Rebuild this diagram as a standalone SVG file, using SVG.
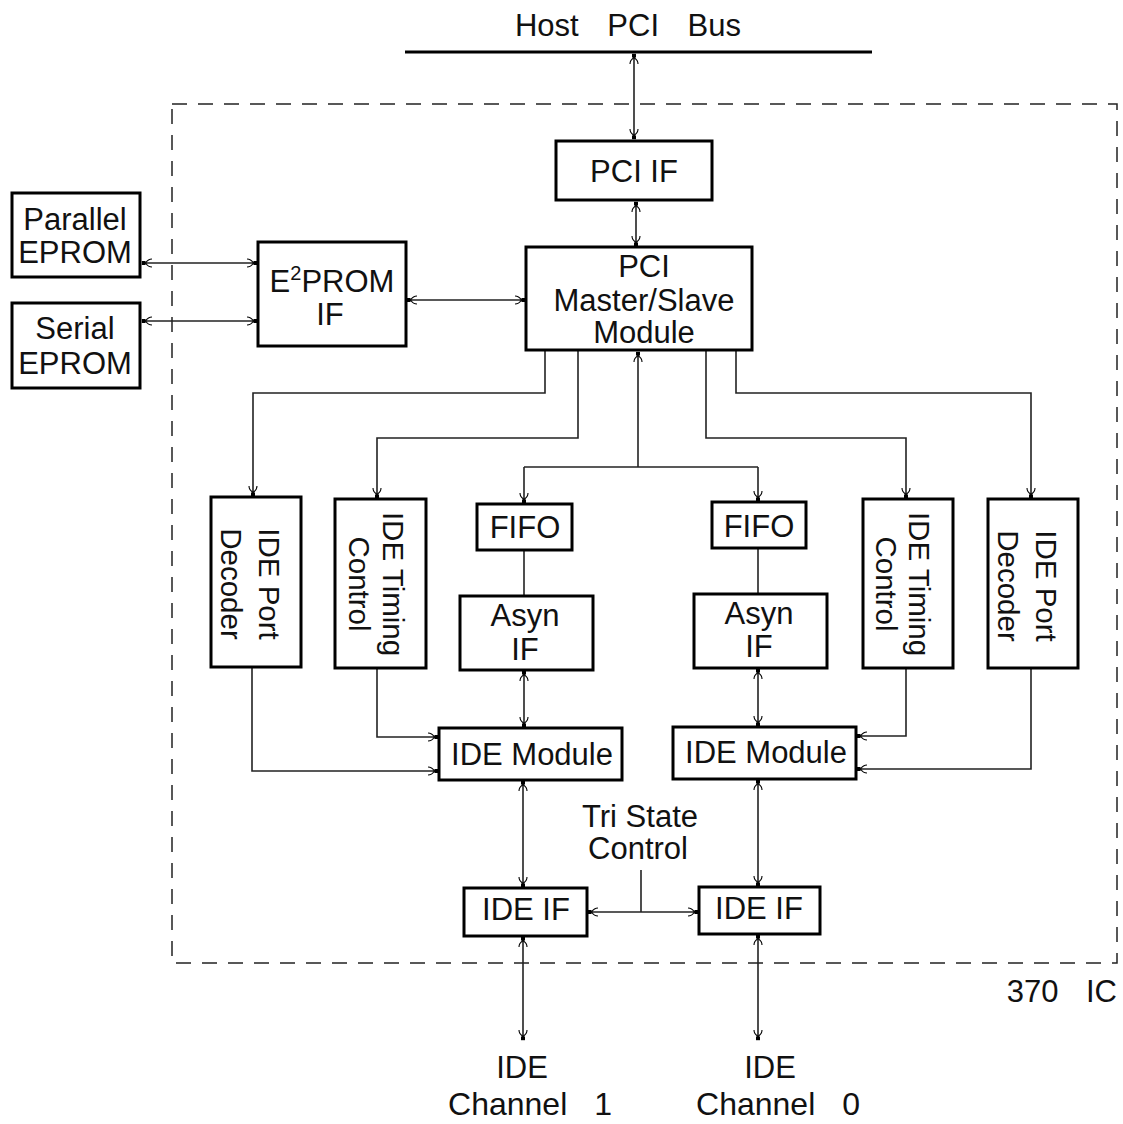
<svg xmlns="http://www.w3.org/2000/svg" width="1123" height="1124" viewBox="0 0 1123 1124">
<defs>
<style>
.box{fill:#fff;stroke:#000;stroke-width:3}
.t{font-family:"Liberation Sans",Arial,Helvetica,sans-serif;font-size:31px;fill:#111;text-anchor:middle}
.v{font-family:"Liberation Sans",Arial,Helvetica,sans-serif;font-size:29.5px;fill:#111;text-anchor:middle}
.c{fill:none;stroke:#222;stroke-width:1.6}
.a{fill:none;stroke:#222;stroke-width:1.6;marker-end:url(#ah)}
.d{fill:none;stroke:#222;stroke-width:1.6;marker-start:url(#ah);marker-end:url(#ah)}
</style>
<marker id="ah" markerUnits="userSpaceOnUse" markerWidth="13" markerHeight="11" viewBox="-11 -5.5 13 11" refX="0" refY="0" orient="auto-start-reverse">
<rect x="-3.6" y="-2" width="3.8" height="4" fill="#000"/>
<path d="M-10,-4 C-6,-4 -5,-2.2 -3.6,0 C-5,2.2 -6,4 -10,4" fill="none" stroke="#000" stroke-width="1.1"/>
</marker>
</defs>

<g id="chip-boundary">
<rect x="172" y="104" width="945" height="859" fill="none" stroke="#222" stroke-width="1.5" stroke-dasharray="15 11"/>
<text class="t" x="1117" y="1002" style="text-anchor:end;word-spacing:19px">370 IC</text>
</g>

<g id="host-pci-bus">
<line x1="405" y1="52" x2="872" y2="52" stroke="#000" stroke-width="3"/>
<text class="t" x="628" y="36" style="word-spacing:20px">Host PCI Bus</text>
</g>

<g id="connectors">
<line class="d" x1="634" y1="54" x2="634" y2="139"/>
<line class="d" x1="636" y1="202" x2="636" y2="246"/>
<line class="d" x1="142" y1="263" x2="257" y2="263"/>
<line class="d" x1="142" y1="321" x2="257" y2="321"/>
<line class="d" x1="407" y1="300" x2="525" y2="300"/>
<path class="a" d="M545,351 V393 H253 V496"/>
<path class="a" d="M578,351 V438 H377 V498"/>
<path class="a" d="M638,467 V352"/>
<path class="c" d="M524,467 H758"/>
<path class="a" d="M524,467 V503"/>
<path class="a" d="M758,467 V501"/>
<path class="a" d="M706,351 V438 H906 V498"/>
<path class="a" d="M736,351 V393 H1031 V498"/>
<line class="c" x1="524" y1="550" x2="524" y2="596"/>
<line class="c" x1="758" y1="548" x2="758" y2="594"/>
<line class="d" x1="524" y1="671" x2="524" y2="727"/>
<line class="d" x1="758" y1="669" x2="758" y2="726"/>
<path class="a" d="M377,668 V737 H438"/>
<path class="a" d="M252,667 V771 H438"/>
<path class="a" d="M906,668 V736 H857"/>
<path class="a" d="M1031,668 V769 H857"/>
<line class="d" x1="523" y1="781" x2="523" y2="887"/>
<line class="d" x1="758" y1="780" x2="758" y2="886"/>
<line class="d" x1="588" y1="912" x2="698" y2="912"/>
<line class="c" x1="641" y1="870" x2="641" y2="912"/>
<line class="d" x1="523" y1="937" x2="523" y2="1040"/>
<line class="d" x1="758" y1="935" x2="758" y2="1040"/>
</g>

<g id="pci-if">
<rect class="box" x="556" y="141" width="156" height="59"/>
<text class="t" x="634" y="182">PCI IF</text>
</g>

<g id="pci-master-slave">
<rect class="box" x="526" y="247" width="226" height="103"/>
<text class="t" x="644" y="277">PCI</text>
<text class="t" x="644" y="311">Master/Slave</text>
<text class="t" x="644" y="343">Module</text>
</g>

<g id="parallel-eprom">
<rect class="box" x="12" y="193" width="128" height="84"/>
<text class="t" x="75" y="230">Parallel</text>
<text class="t" x="75" y="263">EPROM</text>
</g>

<g id="serial-eprom">
<rect class="box" x="12" y="303" width="128" height="85"/>
<text class="t" x="75" y="339">Serial</text>
<text class="t" x="75" y="374">EPROM</text>
</g>

<g id="e2prom-if">
<rect class="box" x="258" y="242" width="148" height="104"/>
<text class="t" x="332" y="292">E<tspan dy="-12" font-size="20">2</tspan><tspan dy="12">PROM</tspan></text>
<text class="t" x="330" y="325">IF</text>
</g>

<g id="ide-port-decoder-1">
<rect class="box" x="211" y="497" width="90" height="170"/>
<g transform="translate(256,584) rotate(90)">
<text class="v" x="0" y="-3">IDE Port</text>
<text class="v" x="0" y="35">Decoder</text>
</g>
</g>

<g id="ide-timing-control-1">
<rect class="box" x="335" y="499" width="91" height="169"/>
<g transform="translate(380.5,584) rotate(90)">
<text class="v" x="0" y="-2">IDE Timing</text>
<text class="v" x="0" y="32">Control</text>
</g>
</g>

<g id="fifo-1">
<rect class="box" x="477" y="504" width="95" height="46"/>
<text class="t" x="525" y="538">FIFO</text>
</g>

<g id="asyn-if-1">
<rect class="box" x="460" y="596" width="133" height="74"/>
<text class="t" x="525" y="626">Asyn</text>
<text class="t" x="525" y="660">IF</text>
</g>

<g id="ide-module-1">
<rect class="box" x="439" y="728" width="183" height="52"/>
<text class="t" x="532" y="765">IDE Module</text>
</g>

<g id="fifo-0">
<rect class="box" x="712" y="502" width="94" height="46"/>
<text class="t" x="759" y="537">FIFO</text>
</g>

<g id="asyn-if-0">
<rect class="box" x="694" y="594" width="133" height="74"/>
<text class="t" x="759" y="624">Asyn</text>
<text class="t" x="759" y="657">IF</text>
</g>

<g id="ide-timing-control-0">
<rect class="box" x="863" y="499" width="90" height="169"/>
<g transform="translate(908,584) rotate(90)">
<text class="v" x="0" y="-1">IDE Timing</text>
<text class="v" x="0" y="32">Control</text>
</g>
</g>

<g id="ide-port-decoder-0">
<rect class="box" x="988" y="499" width="90" height="169"/>
<g transform="translate(1033,586) rotate(90)">
<text class="v" x="0" y="-3">IDE Port</text>
<text class="v" x="0" y="35">Decoder</text>
</g>
</g>

<g id="ide-module-0">
<rect class="box" x="673" y="727" width="183" height="52"/>
<text class="t" x="766" y="763">IDE Module</text>
</g>

<g id="tri-state-control">
<text class="t" x="640" y="827">Tri State</text>
<text class="t" x="638" y="859">Control</text>
</g>

<g id="ide-if-1">
<rect class="box" x="464" y="888" width="123" height="48"/>
<text class="t" x="526" y="920">IDE IF</text>
</g>

<g id="ide-if-0">
<rect class="box" x="699" y="887" width="121" height="47"/>
<text class="t" x="759" y="919">IDE IF</text>
</g>

<g id="ide-channel-1">
<text class="t" x="522" y="1078" font-size="32">IDE</text>
<text class="t" x="530" y="1115" style="font-size:32px;word-spacing:18px">Channel 1</text>
</g>

<g id="ide-channel-0">
<text class="t" x="770" y="1078" font-size="32">IDE</text>
<text class="t" x="778" y="1115" style="font-size:32px;word-spacing:18px">Channel 0</text>
</g>
</svg>
